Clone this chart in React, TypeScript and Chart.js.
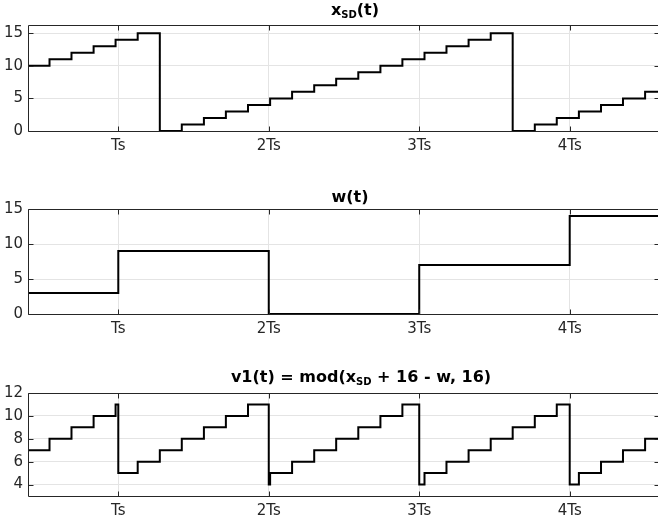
import React, { useEffect, useRef } from "react";
import { Chart, registerables } from "chart.js";

Chart.register(...registerables);

// ---- data (time in units of Ts) ----
const X_MIN = 0.4;
const X_MAX = 4.6;
const X_TICKS = [1, 2, 3, 4];
const X_TICK_LABELS = ["Ts", "2Ts", "3Ts", "4Ts"];

// chip boundaries of x_SD
const CHIP_EDGES = [
  0.396, 0.543, 0.689, 0.836, 0.982, 1.129, 1.276, 1.422, 1.569, 1.715, 1.862,
  2.009, 2.155, 2.302, 2.448, 2.595, 2.742, 2.888, 3.035, 3.181, 3.328, 3.475,
  3.621, 3.768, 3.914, 4.061, 4.208, 4.354, 4.501,
];
const XSD_VALUES = [
  10, 11, 12, 13, 14, 15, 0, 1, 2, 3, 4, 5, 6, 7, 8, 9, 10, 11, 12, 13, 14, 15,
  0, 1, 2, 3, 4, 5, 6,
];

const W_EDGES = [0.4, 1, 2, 3, 4];
const W_VALUES = [3, 9, 0, 7, 14];

const V1_EDGES = [
  0.396, 0.543, 0.689, 0.836, 0.982, 1.0, 1.129, 1.276, 1.422, 1.569, 1.715,
  1.862, 2.0, 2.009, 2.155, 2.302, 2.448, 2.595, 2.742, 2.888, 3.0, 3.035,
  3.181, 3.328, 3.475, 3.621, 3.768, 3.914, 4.0, 4.061, 4.208, 4.354, 4.501,
];
const V1_VALUES = [
  7, 8, 9, 10, 11, 5, 6, 7, 8, 9, 10, 11, 4, 5, 6, 7, 8, 9, 10, 11, 4, 5, 6, 7,
  8, 9, 10, 11, 4, 5, 6, 7, 8,
];

const Y1_TICKS = [0, 5, 10, 15];
const Y2_TICKS = [0, 5, 10, 15];
const Y3_TICKS = [4, 6, 8, 10, 12];

const AXIS_COLOR = "#262626";
const GRID_COLOR = "#e4e4e4";
const FONT = "'DejaVu Sans', sans-serif";

function stepPoints(edges: number[], values: number[], end: number) {
  const pts = edges.map((x, i) => ({ x, y: values[i] }));
  pts.push({ x: end, y: values[values.length - 1] });
  return pts;
}

const CANVAS_W = 662;
const CANVAS_H = 160;

const PANELS = [
  {
    top: 0,
    padTop: 25,
    xAxisH: 29,
    yMin: 0,
    yMax: 16.25,
    yTicks: Y1_TICKS,
    points: stepPoints(CHIP_EDGES, XSD_VALUES, X_MAX),
  },
  {
    top: 180,
    padTop: 29,
    xAxisH: 26,
    yMin: 0,
    yMax: 15,
    yTicks: Y2_TICKS,
    points: stepPoints(W_EDGES, W_VALUES, X_MAX),
  },
  {
    top: 360,
    padTop: 33,
    xAxisH: 24,
    yMin: 3,
    yMax: 12,
    yTicks: Y3_TICKS,
    points: stepPoints(V1_EDGES, V1_VALUES, X_MAX),
  },
];

const boxPlugin = {
  id: "matlabBox",
  afterDatasetsDraw(chart: any) {
    const { ctx, chartArea } = chart;
    const { left, right, top, bottom } = chartArea;
    const L = Math.round(left) + 0.5;
    const R = Math.round(right) - 0.5;
    const T = Math.round(top) + 0.5;
    const B = Math.round(bottom) + 0.5;
    ctx.save();
    ctx.strokeStyle = AXIS_COLOR;
    ctx.lineWidth = 1;
    ctx.beginPath();
    ctx.rect(L, T, R - L, B - T);
    const tl = 5;
    const xs = chart.scales.x;
    const ys = chart.scales.y;
    xs.ticks.forEach((t: any) => {
      const px = Math.round(xs.getPixelForValue(t.value)) + 0.5;
      ctx.moveTo(px, B);
      ctx.lineTo(px, B - tl);
      ctx.moveTo(px, T);
      ctx.lineTo(px, T + tl);
    });
    ys.ticks.forEach((t: any) => {
      const py = Math.round(ys.getPixelForValue(t.value)) + 0.5;
      ctx.moveTo(L, py);
      ctx.lineTo(L + tl, py);
      ctx.moveTo(R, py);
      ctx.lineTo(R - tl, py);
    });
    ctx.stroke();
    ctx.restore();
  },
};

function Panel({ cfg }: { cfg: (typeof PANELS)[number] }) {
  const ref = useRef<HTMLCanvasElement | null>(null);
  useEffect(() => {
    if (!ref.current) return;
    const chart = new Chart(ref.current, {
      type: "line",
      data: {
        datasets: [
          {
            data: cfg.points,
            borderColor: "#000000",
            borderWidth: 2,
            pointRadius: 0,
            stepped: true,
            fill: false,
            tension: 0,
            borderJoinStyle: "miter",
            borderCapStyle: "butt",
            clip: { left: 0, right: 0, top: 3, bottom: 3 },
          } as any,
        ],
      },
      options: {
        animation: false,
        responsive: false,
        devicePixelRatio: 1,
        events: [],
        layout: { padding: { top: cfg.padTop, left: 0, right: 2, bottom: 0 } },
        plugins: {
          legend: { display: false },
          title: { display: false },
          tooltip: { enabled: false },
        },
        scales: {
          x: {
            type: "linear",
            min: X_MIN,
            max: X_MAX,
            afterBuildTicks: (s: any) => {
              s.ticks = X_TICKS.map((v) => ({ value: v }));
            },
            afterFit: (s: any) => {
              s.height = cfg.xAxisH;
            },
            grid: { color: GRID_COLOR, drawTicks: false, lineWidth: 1 },
            border: { display: false },
            ticks: {
              autoSkip: false,
              maxRotation: 0,
              minRotation: 0,
              padding: 6,
              color: AXIS_COLOR,
              font: { family: FONT, size: 15 },
              callback: (v: any) => {
                const i = X_TICKS.indexOf(Number(v));
                return i >= 0 ? X_TICK_LABELS[i] : "";
              },
            },
          },
          y: {
            type: "linear",
            min: cfg.yMin,
            max: cfg.yMax,
            afterBuildTicks: (s: any) => {
              s.ticks = cfg.yTicks.map((v) => ({ value: v }));
            },
            afterFit: (s: any) => {
              s.width = 28;
            },
            grid: { color: GRID_COLOR, drawTicks: false, lineWidth: 1 },
            border: { display: false },
            ticks: {
              autoSkip: false,
              padding: 5,
              color: AXIS_COLOR,
              font: { family: FONT, size: 15 },
              callback: (v: any) => String(v),
            },
          },
        },
      },
      plugins: [boxPlugin],
    });
    return () => chart.destroy();
  }, [cfg]);
  return (
    <canvas
      ref={ref}
      width={CANVAS_W}
      height={CANVAS_H}
      style={{
        position: "absolute",
        left: 0,
        top: cfg.top,
        width: CANVAS_W,
        height: CANVAS_H,
      }}
    />
  );
}

const titleStyle = (cx: number, top: number): React.CSSProperties => ({
  position: "absolute",
  left: cx,
  top,
  transform: "translateX(-50%)",
  fontFamily: FONT,
  fontWeight: "bold",
  fontSize: 16,
  lineHeight: "16px",
  color: "#000",
  whiteSpace: "nowrap",
});

const subStyle: React.CSSProperties = {
  fontSize: 10,
  position: "relative",
  top: 3,
  verticalAlign: "baseline",
  lineHeight: 0,
};

export default function App() {
  return (
    <div
      style={{
        position: "absolute",
        left: 0,
        top: 0,
        width: 658,
        height: 520,
        overflow: "hidden",
        background: "#fff",
      }}
    >
      {PANELS.map((p, i) => (
        <Panel key={i} cfg={p} />
      ))}
      <div style={titleStyle(355, 2)}>
        x<span style={subStyle}>SD</span>(t)
      </div>
      <div style={titleStyle(350, 189)}>w(t)</div>
      <div style={titleStyle(361, 369)}>
        v1(t) = mod(x<span style={subStyle}>SD</span> + 16 - w, 16)
      </div>
    </div>
  );
}
